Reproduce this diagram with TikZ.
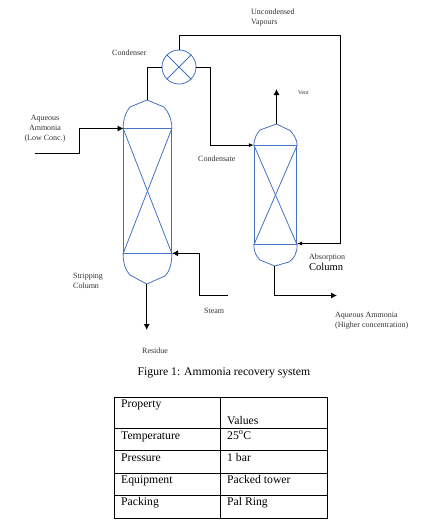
\documentclass[tikz,border=0pt]{standalone}
\usepackage{fontspec}
\setmainfont{Liberation Serif}
\usetikzlibrary{arrows.meta}
\definecolor{myblue}{RGB}{68,114,196}
\definecolor{mygray}{RGB}{50,50,50}
\tikzset{
    vessel/.style={draw=myblue, line width=0.8pt, inner sep=0pt},
    pipe/.style={draw=black, line width=0.9pt},
    flow/.style={pipe, -{Latex[length=6pt, width=6pt]}},
    flowsmall/.style={pipe, -{Latex[length=5pt, width=4pt]}},
    lbl/.style={anchor=west, inner sep=0pt, align=left, text=mygray, font=\fontsize{8}{10}\selectfont},
    cell/.style={draw=black, line width=0.7pt, anchor=north west, inner sep=0pt, outer sep=0pt},
    celltext/.style={anchor=base west, inner sep=0pt, font=\fontsize{11.7}{14}\selectfont},
}

\begin{document}
\begin{tikzpicture}[x=1pt, y=-1pt]
    \useasboundingbox (0, 0) rectangle (428, 528);

    % Condenser.
    \node[vessel, circle, minimum size=34pt] (condenser) at (179, 67) {};
    \draw[vessel] (condenser.45) -- (condenser.225);
    \draw[vessel] (condenser.135) -- (condenser.315);

    % Stripping column with its packing and heads.
    \node[vessel, minimum width=48pt, minimum height=124.5pt] (stripper) at (147.5, 191) {};
    \draw[vessel] (stripper.north west) -- (stripper.south east);
    \draw[vessel] (stripper.north east) -- (stripper.south west);
    \coordinate (striptop) at (147, 100);
    \coordinate (stripbot) at (146.7, 284);
    \draw[vessel] (stripper.north west) .. controls +(0, -9) and +(-4, 4.5) .. (130, 107)
        -- (striptop) -- (164, 107) .. controls +(4, 4.5) and +(0, -9) .. (stripper.north east);
    \draw[vessel] (stripper.south west) .. controls +(0, 10) and +(-4, -4) .. (130, 275)
        -- (stripbot) -- (165, 276) .. controls +(4, -4) and +(0, 11) .. (stripper.south east);

    % Absorption column with its packing and heads.
    \node[vessel, minimum width=42.5pt, minimum height=99pt] (absorber) at (275.5, 195) {};
    \draw[vessel] (absorber.north west) -- (absorber.south east);
    \draw[vessel] (absorber.north east) -- (absorber.south west);
    \coordinate (abstop) at (276.5, 124);
    \coordinate (absbot) at (274.7, 266);
    \draw[vessel] (absorber.north west) .. controls +(0, -6) and +(-3, 3) .. (260, 130)
        -- (abstop) -- (290, 130.5) .. controls +(3, 3) and +(0, -6) .. (absorber.north east);
    \draw[vessel] (absorber.south west) .. controls +(0, 7) and +(-4, -4) .. (260, 260)
        -- (absbot) -- (289, 262) .. controls +(5, -3) and +(0, 8) .. (absorber.south east);

    % Free ends of the streams.
    \coordinate (feedin) at (35, 153.5);
    \coordinate (feedend) at (123.5, 128.5);
    \coordinate (steamin) at (227.5, 295.5);
    \coordinate (steamend) at (172, 253.3);
    \coordinate (ventend) at (276.5, 89);
    \coordinate (residueend) at (146.7, 330);
    \coordinate (vapourbend) at (340.5, 35);
    \coordinate (vapourend) at (297, 243.5);
    \coordinate (productend) at (337, 295.5);

    % Streams.
    \draw[flow] (feedin) -- ++(44.5, 0) |- (feedend);
    \draw[pipe] (striptop) |- (condenser.west);
    \draw[flowsmall] (condenser.east) -- ++(14, 0) |- (absorber.north west);
    \draw[flowsmall] (condenser.north) |- (vapourbend) |- (vapourend);
    \draw[flow] (abstop) -- (ventend);
    \draw[flow] (stripbot) -- (residueend);
    \draw[flow] (steamin) -- ++(-28, 0) |- (steamend);
    \draw[flow] (absbot) |- (productend);

    % Labels.
    \node[lbl] (lblvapours) at (251, 17.5) {Uncondensed\\Vapours};
    \node[lbl] (lblcondenser) at (112, 53) {Condenser};
    \node[lbl, anchor=center, align=center] (lblfeed) at (45, 128.5) {Aqueous\\Ammonia\\(Low Conc.)};
    \node[lbl] (lblcondensate) at (198, 159) {Condensate};
    \node[lbl, font=\fontsize{5.7}{7}\selectfont] (lblvent) at (298, 93) {Vent};
    \node[lbl] (lblstripping) at (73, 281) {Stripping\\Column};
    \node[lbl] (lblsteam) at (204, 311) {Steam};
    \node[lbl] (lblresidue) at (142, 351) {Residue};
    \node[lbl] (lblabsorption) at (309, 257.5) {Absorption};
    \node[lbl, text=black, font=\fontsize{10.5}{12}\selectfont] (lblcolumn) at (309, 267) {Column};
    \node[lbl] (lblproduct) at (335, 320.5) {Aqueous Ammonia\\(Higher concentration)};

    % Caption.
    \node[anchor=center, inner sep=0pt, font=\fontsize{11.7}{14}\selectfont] (caption) at (224, 373) {Figure 1: Ammonia recovery system};

    % Table.
    \node[cell, minimum width=106pt, minimum height=30.5pt] (prop) at (114, 397.5) {};
    \node[cell, minimum width=107pt, minimum height=30.5pt] (vals) at (prop.north east) {};
    \node[celltext] (prophead) at (121, 407.5) {Property};
    \node[celltext] (valshead) at (227, 424) {Values};
    \foreach \ytop/\rowh/\ytext/\prop/\val in {
        428/22.5/439/Temperature/25\textsuperscript{o}C,
        450.5/22.5/461.5/Pressure/1 bar,
        473/22/483.5/Equipment/Packed tower,
        495/23/505.5/Packing/Pal Ring} {
        \node[cell, minimum width=106pt, minimum height=\rowh pt] (left) at (114, \ytop) {};
        \node[cell, minimum width=107pt, minimum height=\rowh pt] (right) at (left.north east) {};
        \node[celltext] at (121, \ytext) {\prop};
        \node[celltext] at (227, \ytext) {\val};
    }
\end{tikzpicture}
\end{document}
